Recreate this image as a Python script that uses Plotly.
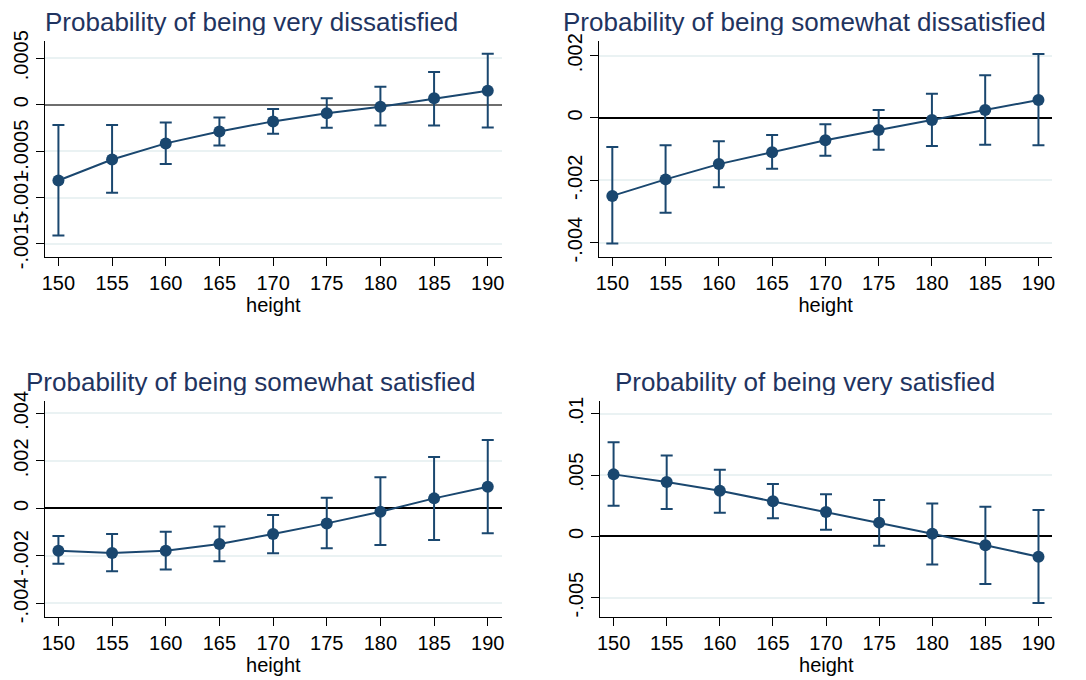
import plotly.graph_objects as go

W, H = 1086, 680
OFF = 8  # default page margin of the html body

height = [150, 155, 160, 165, 170, 175, 180, 185, 190]

# Panel 1: very dissatisfied
vd_est = [-0.000817, -0.00059, -0.000417, -0.000288, -0.00018, -0.0000935, -0.0000216, 0.0000683, 0.000151]
vd_hi = [-0.000219, -0.000219, -0.000191, -0.000137, -0.0000468, 0.0000683, 0.000194, 0.000353, 0.00055]
vd_lo = [-0.00141, -0.00095, -0.00064, -0.000439, -0.000313, -0.000248, -0.000223, -0.000223, -0.000245]

# Panel 2: somewhat dissatisfied
sd_est = [-0.0025, -0.00197, -0.00148, -0.0011, -0.000717, -0.000385, -0.0000642, 0.000257, 0.000578]
sd_hi = [-0.00093, -0.000877, -0.000749, -0.000545, -0.000203, 0.000257, 0.000781, 0.00137, 0.00205]
sd_lo = [-0.00403, -0.00304, -0.00222, -0.00163, -0.00121, -0.00102, -0.000898, -0.000856, -0.000877]

# Panel 3: somewhat satisfied
ss_est = [-0.00178, -0.00188, -0.00178, -0.0015, -0.00108, -0.000632, -0.00014, 0.000421, 0.000912]
ss_hi = [-0.00116, -0.00108, -0.000982, -0.000758, -0.000281, 0.000449, 0.00131, 0.00216, 0.00288]
ss_lo = [-0.00233, -0.00265, -0.00257, -0.00223, -0.00189, -0.00168, -0.00154, -0.00133, -0.00105]

# Panel 4: very satisfied
vs_est = [0.00506, 0.00444, 0.00373, 0.00286, 0.00199, 0.00112, 0.000218, -0.000735, -0.00166]
vs_hi = [0.00768, 0.00661, 0.00544, 0.00427, 0.00343, 0.00297, 0.00269, 0.00242, 0.00215]
vs_lo = [0.0025, 0.00223, 0.00193, 0.00147, 0.000544, -0.000762, -0.00229, -0.00389, -0.00544]

titles = ["Probability of being very dissatisfied",
          "Probability of being somewhat dissatisfied",
          "Probability of being somewhat satisfied",
          "Probability of being very satisfied"]

yticks = [[-0.0015, -0.001, -0.0005, 0, 0.0005],
          [-0.004, -0.002, 0, 0.002],
          [-0.004, -0.002, 0, 0.002, 0.004],
          [-0.005, 0, 0.005, 0.01]]
ytext = [["-.0015", "-.001", "-.0005", "0", ".0005"],
         ["-.004", "-.002", "0", ".002"],
         ["-.004", "-.002", "0", ".002", ".004"],
         ["-.005", "0", ".005", ".01"]]
yranges = [[-0.001644, 0.000686], [-0.00447, 0.00247], [-0.00456, 0.00452], [-0.00656, 0.01105]]
xticks = [150, 155, 160, 165, 170, 175, 180, 185, 190]

series = [(vd_est, vd_lo, vd_hi), (sd_est, sd_lo, sd_hi), (ss_est, ss_lo, ss_hi), (vs_est, vs_lo, vs_hi)]

# pixel boxes in the screenshot (left, right, top, bottom)
boxes = [(45, 501.7, 41, 257.3), (599, 1052.3, 41, 257.3),
         (45, 501.7, 401, 616.7), (600.3, 1052.3, 401, 616.7)]
title_pos = [(251, 22), (804, 22), (250, 382), (805, 382)]
zero_colors = ["#6e6e6e", "black", "black", "black"]

navy = "#1a476f"
font_family = "Liberation Sans, Arial, sans-serif"


def px(x):
    return (x - OFF) / W


def py(y):
    return 1 - (y - OFF) / H


fig = go.Figure()
layout = dict(width=W, height=H, margin=dict(l=0, r=0, t=0, b=0, autoexpand=False),
              paper_bgcolor="white", plot_bgcolor="white", showlegend=False,
              font=dict(family=font_family, color="black"))
annotations = []

for i in range(4):
    est, lo, hi = series[i]
    n = "" if i == 0 else str(i + 1)
    fig.add_trace(go.Scatter(
        x=height, y=est, mode="lines+markers",
        xaxis="x" + n, yaxis="y" + n,
        line=dict(color=navy, width=2),
        marker=dict(color=navy, size=12),
        error_y=dict(type="data", symmetric=False,
                     array=[h - e for h, e in zip(hi, est)],
                     arrayminus=[e - l for e, l in zip(est, lo)],
                     color=navy, thickness=2, width=6),
    ))
    l, r, t, b = boxes[i]
    layout["xaxis" + n] = dict(
        domain=[px(l), px(r)], anchor="y" + n, range=[148.75, 191.3],
        tickvals=xticks, ticks="outside", ticklen=8, tickwidth=1.3, tickcolor="black",
        showline=True, linecolor="black", linewidth=1.3, showgrid=False, zeroline=False,
        tickfont=dict(size=20, color="black"), automargin=False,
        title=dict(text="height", font=dict(size=20, color="black"), standoff=0),
    )
    layout["yaxis" + n] = dict(
        domain=[py(b), py(t)], anchor="x" + n, range=yranges[i],
        tickvals=yticks[i], ticktext=ytext[i], tickangle=-90,
        ticks="outside", ticklen=8, tickwidth=1.3, tickcolor="black",
        showline=True, linecolor="black", linewidth=1.3,
        showgrid=True, gridcolor="#eaf2f3", gridwidth=1.5,
        zeroline=True, zerolinecolor=zero_colors[i], zerolinewidth=1.8,
        tickfont=dict(size=20, color="black"), automargin=False,
    )
    cx, cy = title_pos[i]
    annotations.append(dict(
        text=titles[i], x=px(cx), y=py(cy), xref="paper", yref="paper",
        xanchor="center", yanchor="middle", showarrow=False,
        height=26, valign="middle",
        font=dict(size=26, color="#1f3460", family=font_family)))

layout["annotations"] = annotations
fig.update_layout(**layout)
fig.write_html("out.html")
